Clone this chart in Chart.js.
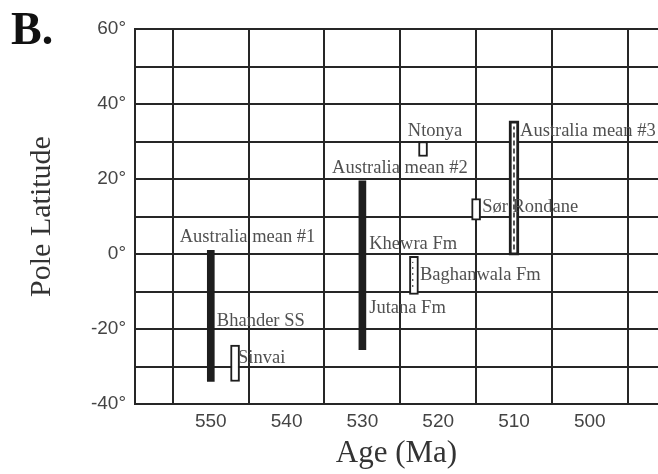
<!DOCTYPE html>
<html>
<head>
<meta charset="utf-8">
<script src="https://cdn.jsdelivr.net/npm/chart.js@4/dist/chart.umd.min.js"></script>
<style>
  html, body { margin: 0; padding: 0; background: #fff; }
  #wrap { width: 658px; height: 474px; }
</style>
</head>
<body>
<div id="wrap"><canvas id="c" width="658" height="474"></canvas></div>
<script>
// Palaeomagnetic pole latitudes against age (Ma)

// Mean poles (solid bars)
const meanNames = ['Australia mean #1', 'Australia mean #2'];
const meanAges = [550, 530];
const meanLow = [-34, -25.5];
const meanHigh = [1, 19.5];

// Individual formation poles (open boxes)
const poleNames = ['Sinvai', 'Ntonya', 'Sør Rondane', 'Baghanwala Fm'];
const poleAges = [546.8, 522, 515, 523.2];
const poleLow = [-34, 26, 9, -10.8];
const poleHigh = [-24.3, 30, 14.8, -0.6];

// Third Australian mean (outlined, dashed core)
const mean3Name = 'Australia mean #3';
const mean3Age = 510;
const mean3Low = -0.3;
const mean3High = 35.5;

// Axis ticks
const ageTicks = [550, 540, 530, 520, 510, 500];
const latTicks = [60, 40, 20, 0, -20, -40];

// Text annotations placed in data units (age, latitude)
const notes = [
  { text: 'Australia mean #1', age: 554.1, lat: 4.5 },
  { text: 'Bhander SS', age: 549.2, lat: -17.9 },
  { text: 'Sinvai', age: 546.4, lat: -27.7 },
  { text: 'Australia mean #2', age: 534.0, lat: 22.9 },
  { text: 'Ntonya', age: 524.0, lat: 32.8 },
  { text: 'Australia mean #3', age: 509.2, lat: 32.8 },
  { text: 'Sør Rondane', age: 514.2, lat: 12.5 },
  { text: 'Khewra Fm', age: 529.1, lat: 2.7 },
  { text: 'Baghanwala Fm', age: 522.4, lat: -5.6 },
  { text: 'Jutana Fm', age: 529.1, lat: -14.4 }
];

const INK = '#1e1e1e';
const GRID = '#262626';

const meanData = meanAges.map((a, i) => ({ x: a, y: [meanLow[i], meanHigh[i]] }));
const poleData = poleAges.map((a, i) => ({ x: a, y: [poleLow[i], poleHigh[i]] }));
const mean3Data = [{ x: mean3Age, y: [mean3Low, mean3High] }];

const notesPlugin = {
  id: 'notes',
  afterDatasetsDraw(chart) {
    const { ctx, scales: { x, y } } = chart;
    ctx.save();
    ctx.font = '18.5px "Liberation Serif", "Times New Roman", serif';
    ctx.fillStyle = '#505050';
    ctx.textAlign = 'left';
    ctx.textBaseline = 'middle';
    notes.forEach(n => ctx.fillText(n.text, x.getPixelForValue(n.age), y.getPixelForValue(n.lat)));
    // panel letter
    ctx.font = 'bold 46px "Liberation Serif", "Times New Roman", serif';
    ctx.fillStyle = '#111';
    ctx.textBaseline = 'alphabetic';
    ctx.fillText('B.', 11, 44);
    ctx.restore();
  }
};

new Chart(document.getElementById('c'), {
  type: 'bar',
  data: {
    datasets: [
      {
        type: 'line',
        label: mean3Name + ' core',
        data: [{ x: mean3Age, y: mean3Low + 1.5 }, { x: mean3Age, y: mean3High - 1.5 }],
        borderColor: INK,
        borderWidth: 1.5,
        borderDash: [5, 3],
        pointRadius: 0,
        order: 0
      },
      {
        type: 'line',
        label: 'Baghanwala Fm core',
        data: [{ x: poleAges[3] + 0.15, y: poleLow[3] + 2 }, { x: poleAges[3] + 0.15, y: poleHigh[3] - 1.5 }],
        borderColor: INK,
        borderWidth: 1,
        borderDash: [2, 4],
        pointRadius: 0,
        order: 0
      },
      {
        label: 'Mean poles',
        data: meanData,
        backgroundColor: INK,
        borderWidth: 0,
        barThickness: 7,
        grouped: false,
        order: 2
      },
      {
        label: 'Formation poles',
        data: poleData,
        backgroundColor: '#fff',
        borderColor: INK,
        borderWidth: 2,
        borderSkipped: false,
        barThickness: 9,
        grouped: false,
        order: 1
      },
      {
        label: mean3Name,
        data: mean3Data,
        backgroundColor: '#fff',
        borderColor: INK,
        borderWidth: 3,
        borderSkipped: false,
        barThickness: 10,
        grouped: false,
        order: 1
      }
    ]
  },
  options: {
    responsive: false,
    animation: false,
    events: [],
    layout: { padding: { top: 29, left: 0, right: 0, bottom: 0 } },
    plugins: { legend: { display: false }, tooltip: { enabled: false } },
    scales: {
      x: {
        type: 'linear',
        reverse: true,
        min: 491,
        max: 560,
        offset: false,
        ticks: {
          stepSize: 10,
          includeBounds: false,
          padding: 6,
          color: '#444',
          font: { family: '"Liberation Sans", Arial, sans-serif', size: 19 },
          callback: v => ageTicks.includes(v) ? String(v) : ''
        },
        grid: { color: GRID, lineWidth: 2, drawTicks: false },
        border: { display: true, color: GRID, width: 2 },
        title: {
          display: true,
          text: 'Age (Ma)',
          color: '#333',
          font: { family: '"Liberation Serif", "Times New Roman", serif', size: 31 },
          padding: { top: 0, bottom: 2 }
        },
        afterFit: s => { s.height = 70; }
      },
      y: {
        type: 'linear',
        min: -40,
        max: 60,
        ticks: {
          stepSize: 10,
          padding: 9,
          color: '#444',
          font: { family: '"Liberation Sans", Arial, sans-serif', size: 19 },
          callback: v => latTicks.includes(v) ? v + '°' : ''
        },
        grid: { color: GRID, lineWidth: 2, drawTicks: false },
        border: { display: true, color: GRID, width: 2 },
        title: {
          display: true,
          text: 'Pole Latitude',
          color: '#333',
          font: { family: '"Liberation Serif", "Times New Roman", serif', size: 30 },
          padding: { top: 24, bottom: 0 }
        },
        afterFit: s => { s.width = 135; }
      }
    }
  },
  plugins: [notesPlugin]
});
</script>
</body>
</html>
